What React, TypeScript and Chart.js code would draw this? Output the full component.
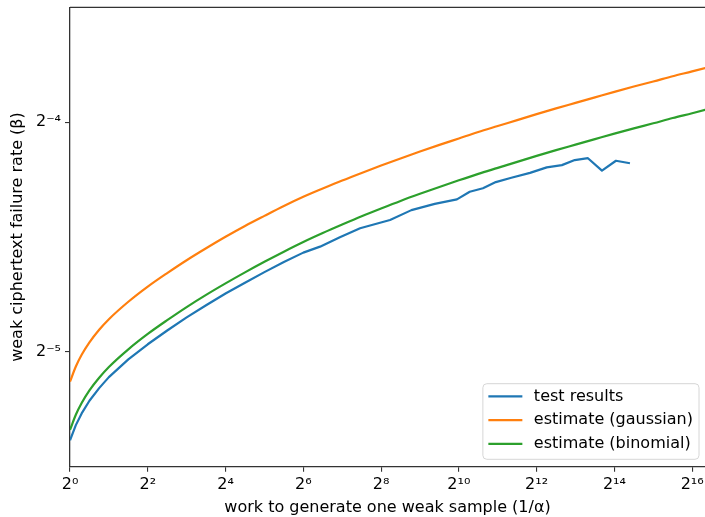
import React, { useEffect, useRef } from 'react';
import { Chart, registerables } from 'chart.js';

Chart.register(...registerables);

// log2 of "work to generate one weak sample (1/α)"
const testWorkLog2 = [0, 0.15, 0.3, 0.5, 0.75, 1, 1.5, 2, 2.5, 3, 3.5, 4, 4.5, 5, 5.5, 6, 6.43, 6.94, 7.46, 8.23, 8.78, 9.38, 9.95, 10.28, 10.62, 10.95, 11.35, 11.83, 12.26, 12.65, 12.98, 13.32, 13.68, 14.04, 14.4];
// log2 of weak ciphertext failure rate (β), test results
const testRateLog2 = [-5.385, -5.319, -5.268, -5.213, -5.158, -5.11, -5.033, -4.967, -4.907, -4.85, -4.797, -4.746, -4.699, -4.653, -4.609, -4.568, -4.542, -4.501, -4.462, -4.426, -4.383, -4.356, -4.336, -4.303, -4.288, -4.261, -4.242, -4.221, -4.197, -4.187, -4.165, -4.157, -4.211, -4.168, -4.179];

const estWorkLog2 = [0, 0.15, 0.3, 0.5, 0.75, 1, 1.5, 2, 2.5, 3, 3.5, 4, 4.5, 5, 5.5, 6, 6.5, 7, 7.5, 8, 8.5, 9, 9.5, 10, 10.5, 11, 11.5, 12, 12.5, 13, 13.5, 14, 14.5, 15, 15.5, 16, 16.5];
const gaussRateLog2 = [-5.13, -5.064, -5.013, -4.959, -4.904, -4.858, -4.782, -4.716, -4.657, -4.601, -4.549, -4.499, -4.452, -4.408, -4.365, -4.325, -4.289, -4.254, -4.221, -4.189, -4.158, -4.128, -4.099, -4.071, -4.043, -4.017, -3.991, -3.965, -3.94, -3.916, -3.892, -3.868, -3.845, -3.823, -3.8, -3.779, -3.757];
const binomRateLog2 = [-5.34, -5.274, -5.223, -5.168, -5.113, -5.066, -4.989, -4.922, -4.862, -4.805, -4.752, -4.702, -4.654, -4.608, -4.564, -4.522, -4.483, -4.446, -4.41, -4.376, -4.343, -4.312, -4.282, -4.253, -4.225, -4.199, -4.173, -4.147, -4.122, -4.098, -4.074, -4.05, -4.027, -4.005, -3.982, -3.961, -3.939];

const seriesLabels = ['test results', 'estimate (gaussian)', 'estimate (binomial)'];
const seriesColors = ['#1f77b4', '#ff7f0e', '#2ca02c'];

const xTickLog2 = [0, 2, 4, 6, 8, 10, 12, 14, 16];
const yTickLog2 = [-5, -4];
const xRangeLog2 = [0, 16.33];
const yRangeLog2 = [-5.5, -3.5];

const FONT = 'DejaVu Sans';
const FONT_SIZE = 16;

const supDigits = '⁰¹²³⁴⁵⁶⁷⁸⁹';
const pow2Label = (v: number) => {
  const e = Math.round(Math.log2(v));
  return '2' + String(e).replace(/-/g, '⁻').replace(/\d/g, (d) => supDigits[+d]);
};

const toPoints = (xs: number[], ys: number[]) => xs.map((x, i) => ({ x: Math.pow(2, x), y: Math.pow(2, ys[i]) }));

const framePlugin = {
  id: 'frameAndLegend',
  afterDraw(chart: any) {
    const { ctx, chartArea } = chart;
    ctx.save();
    // top spine
    ctx.strokeStyle = '#333';
    ctx.lineWidth = 1.3;
    ctx.beginPath();
    ctx.moveTo(chartArea.left, chartArea.top);
    ctx.lineTo(chartArea.right, chartArea.top);
    ctx.stroke();

    // legend (lower right)
    ctx.font = `${FONT_SIZE}px "${FONT}"`;
    const texts = chart.data.datasets.map((d: any) => d.label);
    const textW = Math.max(...texts.map((t: string) => ctx.measureText(t).width));
    const pad = 5.5;
    const lineLen = 34;
    const gap = 11.5;
    const rowH = 23.7;
    const boxW = pad + lineLen + gap + textW + 6;
    const boxH = rowH * texts.length + 4.5;
    const x0 = chartArea.right - 6 - boxW;
    const y0 = chartArea.bottom - 7.4 - boxH;
    const r = 4;
    ctx.beginPath();
    ctx.moveTo(x0 + r, y0);
    ctx.lineTo(x0 + boxW - r, y0);
    ctx.arcTo(x0 + boxW, y0, x0 + boxW, y0 + r, r);
    ctx.lineTo(x0 + boxW, y0 + boxH - r);
    ctx.arcTo(x0 + boxW, y0 + boxH, x0 + boxW - r, y0 + boxH, r);
    ctx.lineTo(x0 + r, y0 + boxH);
    ctx.arcTo(x0, y0 + boxH, x0, y0 + boxH - r, r);
    ctx.lineTo(x0, y0 + r);
    ctx.arcTo(x0, y0, x0 + r, y0, r);
    ctx.closePath();
    ctx.fillStyle = 'rgba(255,255,255,0.8)';
    ctx.fill();
    ctx.strokeStyle = '#d6d6d6';
    ctx.lineWidth = 1;
    ctx.stroke();
    texts.forEach((t: string, i: number) => {
      const cy = y0 + 12.7 + i * rowH;
      ctx.strokeStyle = chart.data.datasets[i].borderColor;
      ctx.lineWidth = 2.2;
      ctx.beginPath();
      ctx.moveTo(x0 + pad, cy);
      ctx.lineTo(x0 + pad + lineLen, cy);
      ctx.stroke();
      ctx.fillStyle = '#000';
      ctx.textBaseline = 'middle';
      ctx.textAlign = 'left';
      ctx.fillText(t, x0 + pad + lineLen + gap, cy);
    });
    ctx.restore();
  },
};

export default function App() {
  const ref = useRef<HTMLCanvasElement | null>(null);
  useEffect(() => {
    if (!ref.current) return;
    const tickFont = { family: FONT, size: FONT_SIZE };
    const chart = new Chart(ref.current, {
      type: 'line',
      data: {
        datasets: [
          {
            label: seriesLabels[0],
            data: toPoints(testWorkLog2, testRateLog2),
            borderColor: seriesColors[0],
            borderWidth: 2.2,
            tension: 0,
          },
          {
            label: seriesLabels[1],
            data: toPoints(estWorkLog2, gaussRateLog2),
            borderColor: seriesColors[1],
            borderWidth: 2.2,
            cubicInterpolationMode: 'monotone',
          },
          {
            label: seriesLabels[2],
            data: toPoints(estWorkLog2, binomRateLog2),
            borderColor: seriesColors[2],
            borderWidth: 2.2,
            cubicInterpolationMode: 'monotone',
          },
        ],
      },
      options: {
        responsive: false,
        animation: false,
        devicePixelRatio: 1,
        layout: { padding: { top: 7.3, left: 0, right: 0, bottom: 0 } },
        elements: { point: { radius: 0 }, line: { fill: false, borderCapStyle: 'butt', borderJoinStyle: 'round' } },
        plugins: { legend: { display: false }, tooltip: { enabled: false } },
        scales: {
          x: {
            type: 'logarithmic',
            min: Math.pow(2, xRangeLog2[0]),
            max: Math.pow(2, xRangeLog2[1]),
            afterBuildTicks: (scale: any) => {
              scale.ticks = xTickLog2.map((e) => ({ value: Math.pow(2, e) }));
            },
            afterFit: (scale: any) => {
              scale.height = 50.3;
              scale.paddingLeft = 0;
              scale.paddingRight = 0;
            },
            ticks: {
              callback: (v: any) => pow2Label(Number(v)),
              font: tickFont,
              color: '#000',
              padding: 4,
              maxRotation: 0,
              autoSkip: false,
            },
            grid: { drawOnChartArea: false, drawTicks: true, tickLength: 5, color: '#333', lineWidth: 1.1 },
            border: { display: true, color: '#333', width: 1.3 },
            title: {
              display: true,
              text: 'work to generate one weak sample (1/α)',
              font: tickFont,
              color: '#000',
              padding: { top: 0, bottom: 0 },
            },
          },
          y: {
            type: 'logarithmic',
            min: Math.pow(2, yRangeLog2[0]),
            max: Math.pow(2, yRangeLog2[1]),
            afterBuildTicks: (scale: any) => {
              scale.ticks = yTickLog2.map((e) => ({ value: Math.pow(2, e) }));
            },
            afterFit: (scale: any) => {
              scale.width = 70;
              scale.paddingTop = 0;
              scale.paddingBottom = 0;
            },
            ticks: {
              callback: (v: any) => pow2Label(Number(v)),
              font: tickFont,
              color: '#000',
              padding: 4,
              autoSkip: false,
            },
            grid: { drawOnChartArea: false, drawTicks: true, tickLength: 5, color: '#333', lineWidth: 1.1 },
            border: { display: true, color: '#333', width: 1.3 },
            title: {
              display: true,
              text: 'weak ciphertext failure rate (β)',
              font: tickFont,
              color: '#000',
              padding: { top: 8.7, bottom: 0 },
            },
          },
        },
      },
      plugins: [framePlugin],
    });
    return () => chart.destroy();
  }, []);
  return (
    <div style={{ position: 'absolute', left: 0, top: 0, width: 705, height: 517, background: '#fff' }}>
      <canvas ref={ref} width={705} height={517} style={{ display: 'block' }} />
    </div>
  );
}
